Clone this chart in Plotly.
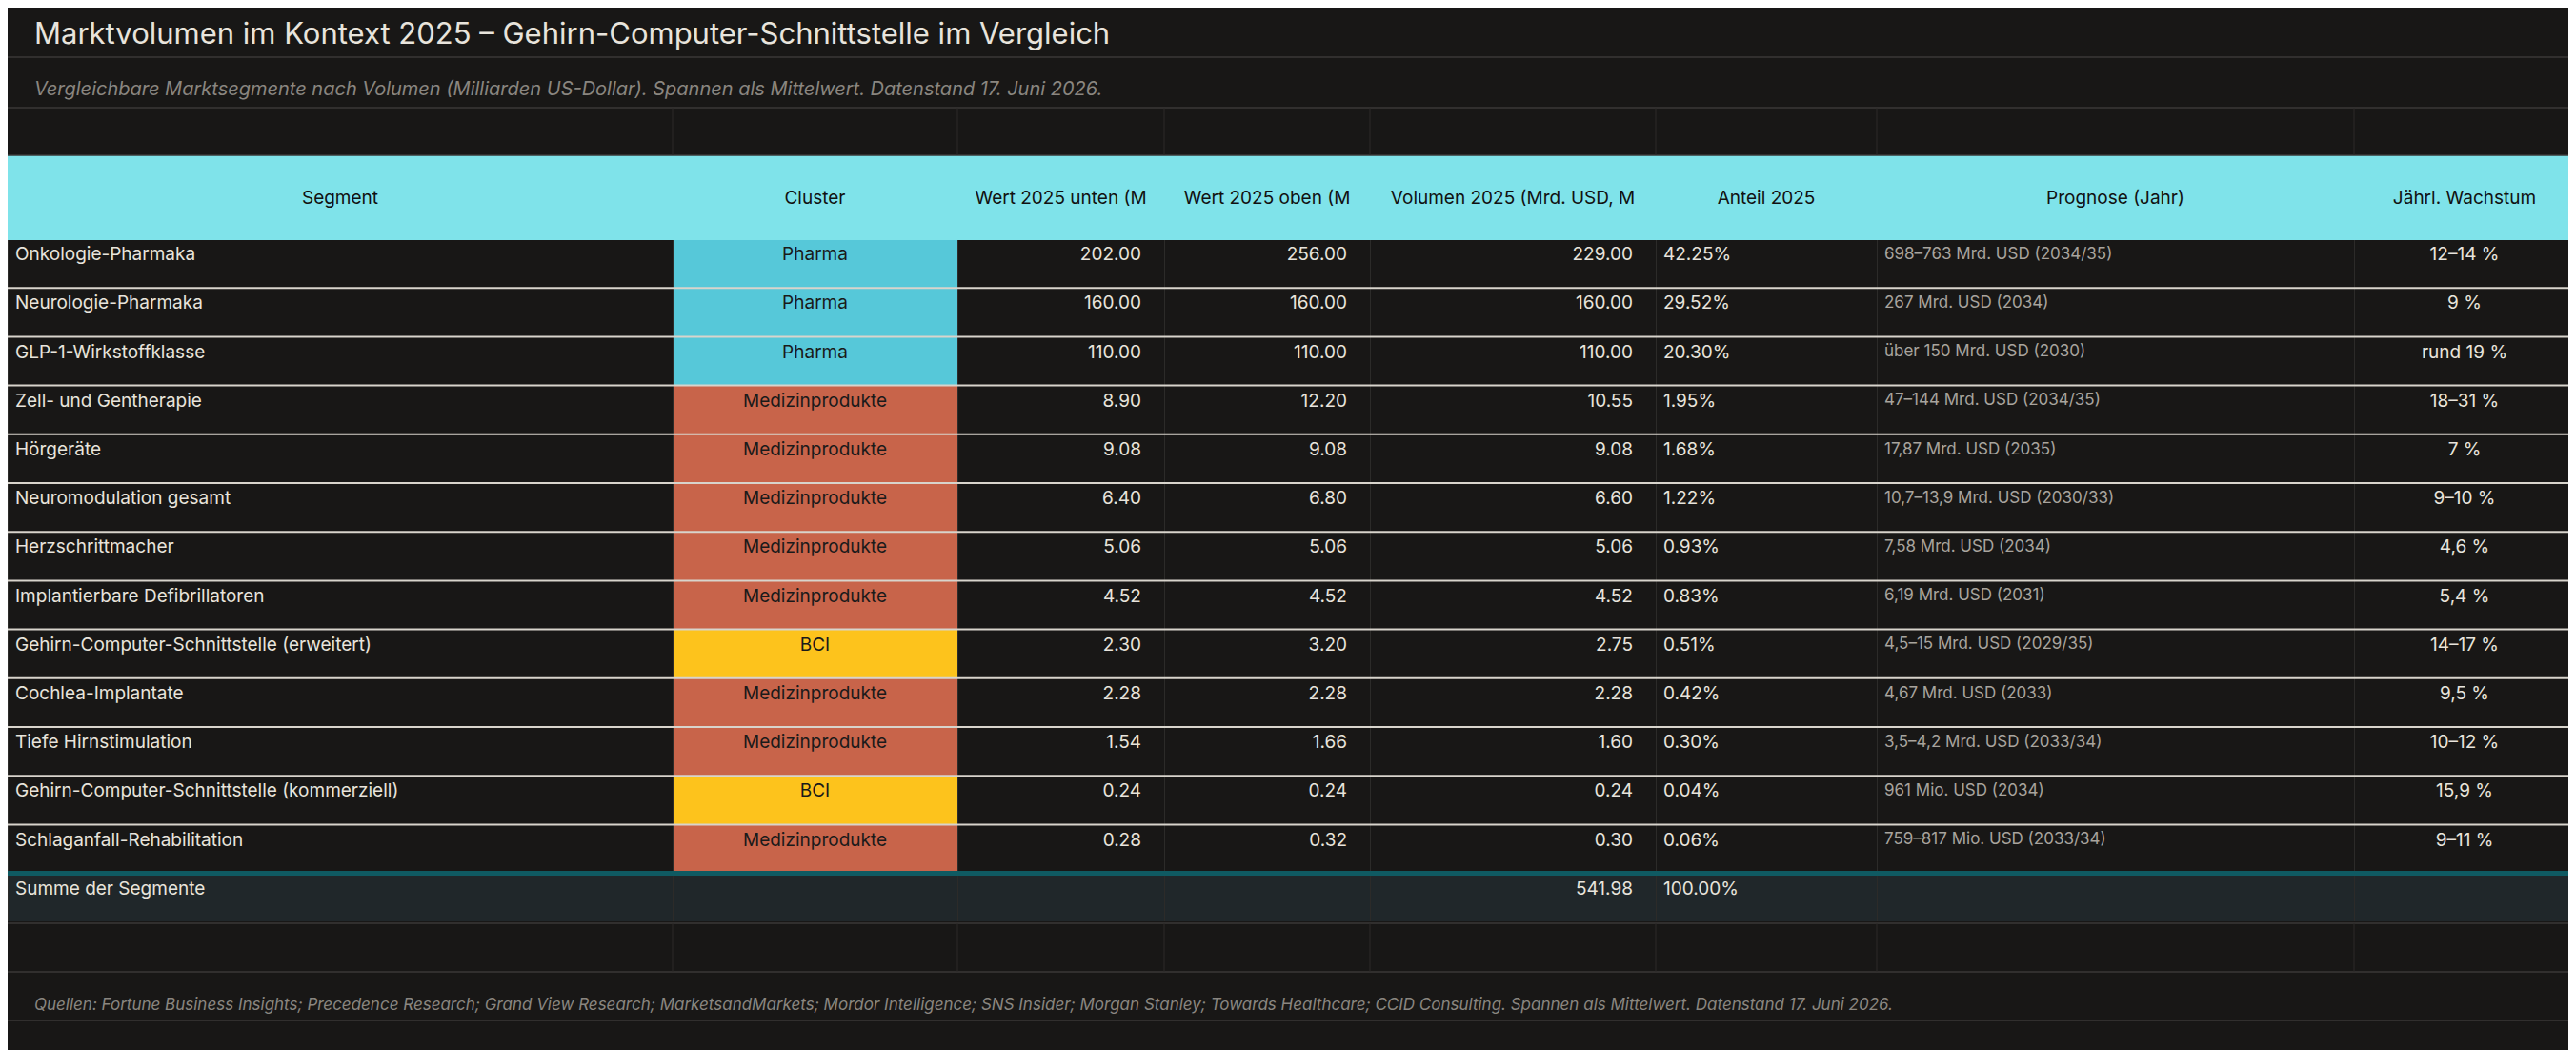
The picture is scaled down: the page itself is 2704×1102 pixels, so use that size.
import plotly.graph_objects as go

W, H = 2704, 1102

segments = ["Onkologie-Pharmaka", "Neurologie-Pharmaka", "GLP-1-Wirkstoffklasse", "Zell- und Gentherapie",
            "Hörgeräte", "Neuromodulation gesamt", "Herzschrittmacher", "Implantierbare Defibrillatoren",
            "Gehirn-Computer-Schnittstelle (erweitert)", "Cochlea-Implantate", "Tiefe Hirnstimulation",
            "Gehirn-Computer-Schnittstelle (kommerziell)", "Schlaganfall-Rehabilitation"]
clusters = ["Pharma", "Pharma", "Pharma", "Medizinprodukte", "Medizinprodukte", "Medizinprodukte",
            "Medizinprodukte", "Medizinprodukte", "BCI", "Medizinprodukte", "Medizinprodukte", "BCI",
            "Medizinprodukte"]
wert_unten = [202.00, 160.00, 110.00, 8.90, 9.08, 6.40, 5.06, 4.52, 2.30, 2.28, 1.54, 0.24, 0.28]
wert_oben = [256.00, 160.00, 110.00, 12.20, 9.08, 6.80, 5.06, 4.52, 3.20, 2.28, 1.66, 0.24, 0.32]
volumen = [229.00, 160.00, 110.00, 10.55, 9.08, 6.60, 5.06, 4.52, 2.75, 2.28, 1.60, 0.24, 0.30]
anteil = [42.25, 29.52, 20.30, 1.95, 1.68, 1.22, 0.93, 0.83, 0.51, 0.42, 0.30, 0.04, 0.06]
prognose = ["698–763 Mrd. USD (2034/35)", "267 Mrd. USD (2034)", "über 150 Mrd. USD (2030)",
            "47–144 Mrd. USD (2034/35)", "17,87 Mrd. USD (2035)", "10,7–13,9 Mrd. USD (2030/33)",
            "7,58 Mrd. USD (2034)", "6,19 Mrd. USD (2031)", "4,5–15 Mrd. USD (2029/35)",
            "4,67 Mrd. USD (2033)", "3,5–4,2 Mrd. USD (2033/34)", "961 Mio. USD (2034)",
            "759–817 Mio. USD (2033/34)"]
wachstum = ["12–14 %", "9 %", "rund 19 %", "18–31 %", "7 %", "9–10 %", "4,6 %", "5,4 %", "14–17 %",
            "9,5 %", "10–12 %", "15,9 %", "9–11 %"]
headers = ["Segment", "Cluster", "Wert 2025 unten (M", "Wert 2025 oben (M", "Volumen 2025 (Mrd. USD, M",
           "Anteil 2025", "Prognose (Jahr)", "Jährl. Wachstum"]

BG = "#181716"
SUM_BG = "#20272a"
TXT = "#e8e4dc"
cluster_col = {"Pharma": "#56c8d9", "Medizinprodukte": "#c8644a", "BCI": "#fdc31c"}

total = sum(volumen)
n = len(segments)
col_w = [698, 299, 217, 216, 300, 232, 501, 232]

cols = [
    segments + ["Summe der Segmente"],
    clusters + [""],
    [f"{v:.2f}" for v in wert_unten] + [""],
    [f"{v:.2f}" for v in wert_oben] + [""],
    [f"{v:.2f}" for v in volumen] + [f"{total:.2f}"],
    [f"{v:.2f}%" for v in anteil] + ["100.00%"],
    prognose + [""],
    wachstum + [""],
]
row_bg = [BG] * n + [SUM_BG]
fills = [row_bg, [cluster_col[c] for c in clusters] + [SUM_BG]] + [row_bg] * 6
font_colors = [TXT, "#1a1a1a", TXT, TXT, TXT, TXT, "#a8a49e", TXT]
font_sizes = [19, 19, 19, 19, 19, 19, 17, 19]
pad = "\u00a0\u00a0\u00a0"
suffixes = ["", "", pad, pad, pad, "", "", ""]

top, hdr_h, row_h = 155, 88, 51.2
bottom = top + hdr_h + row_h * (n + 1)
tw = sum(col_w)

fig = go.Figure(go.Table(
    domain=dict(x=[0, tw / W], y=[1 - bottom / H, 1 - top / H]),
    columnwidth=col_w,
    header=dict(values=["\u00a0<br>" + h for h in headers], fill_color="#7fe3ea", height=hdr_h,
                align="center", font=dict(family="Inter", size=19, color="#111"),
                line=dict(color="#7fe3ea", width=1)),
    cells=dict(values=cols, fill_color=fills, height=row_h, suffix=suffixes,
               align=["left", "center", "right", "right", "right", "left", "left", "center"],
               font=dict(family="Inter", size=font_sizes, color=font_colors),
               line=dict(color="#2c2b29", width=1)),
))

shapes = []
def hline(y, color, width=1.5, x1=W):
    shapes.append(dict(type="line", xref="paper", yref="paper", x0=0, x1=x1 / W,
                       y0=1 - y / H, y1=1 - y / H, line=dict(color=color, width=width)))

for y in (52, 105, 155, 961, 1012, 1063):
    hline(y, "#3a3937", 1.5)
for k in range(1, n):
    hline(top + hdr_h + row_h * k, "#d8d4cc", 2, tw)
hline(top + hdr_h + row_h * n, "#0f5a62", 5, tw)

# vertical separators in the empty rows above header and below the sum row
xs = [0]
for w in col_w:
    xs.append(xs[-1] + w)
for x in xs[1:-1]:
    for y0, y1 in ((105, 155), (961, 1012)):
        shapes.append(dict(type="line", xref="paper", yref="paper", x0=x / W, x1=x / W,
                           y0=1 - y0 / H, y1=1 - y1 / H, line=dict(color="#2c2b29", width=1)))

fig.update_layout(
    width=W, height=H, paper_bgcolor=BG, plot_bgcolor=BG,
    margin=dict(l=0, r=0, t=0, b=0), shapes=shapes,
    annotations=[
        dict(text="Marktvolumen im Kontext 2025 – Gehirn-Computer-Schnittstelle im Vergleich",
             x=26 / W, y=1 - 26 / H, xref="paper", yref="paper", xanchor="left", yanchor="middle",
             showarrow=False, font=dict(family="Inter", size=31, color=TXT)),
        dict(text="<i>Vergleichbare Marktsegmente nach Volumen (Milliarden US-Dollar). Spannen als Mittelwert. Datenstand 17. Juni 2026.</i>",
             x=26 / W, y=1 - 85 / H, xref="paper", yref="paper", xanchor="left", yanchor="middle",
             showarrow=False, font=dict(family="Inter", size=20, color="#8a8680")),
        dict(text="<i>Quellen: Fortune Business Insights; Precedence Research; Grand View Research; MarketsandMarkets; Mordor Intelligence; SNS Insider; Morgan Stanley; Towards Healthcare; CCID Consulting. Spannen als Mittelwert. Datenstand 17. Juni 2026.</i>",
             x=26 / W, y=1 - 1046 / H, xref="paper", yref="paper", xanchor="left", yanchor="middle",
             showarrow=False, font=dict(family="Inter", size=17, color="#8a8680")),
    ],
)

fig.write_html("out.html")
